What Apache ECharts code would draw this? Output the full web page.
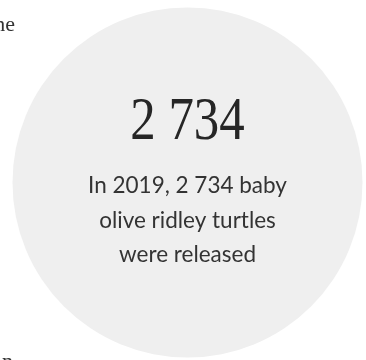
<!DOCTYPE html>
<html>
<head>
<meta charset="utf-8">
<script src="https://cdn.jsdelivr.net/npm/echarts@6/dist/echarts.min.js"></script>
<style>
html,body{margin:0;padding:0;background:#ffffff;}
#chart{width:366px;height:360px;}
</style>
</head>
<body>
<div id="chart"></div>
<script>
// Data
var years = [2019];
var released = [2734];
var sentenceLines = ["In 2019, 2 734 baby", "olive ridley turtles", "were released"];
var sideTextTop = "ne";
var sideTextBottom = "n";

function fmt(n){ return String(n).replace(/\B(?=(\d{3})+(?!\d))/g, ' '); }

var chart = echarts.init(document.getElementById('chart'), null, {renderer:'canvas'});
var cx = 187.5, cy = 182.5;
var bodyFont = '400 22.5px Lato';
var option = {
  animation: false,
  backgroundColor: '#ffffff',
  series: [{
    type: 'pie',
    center: [cx, cy],
    radius: [0, 175],
    silent: true,
    z: 1,
    label: {show: false},
    labelLine: {show: false},
    itemStyle: {color: '#efefef'},
    data: years.map(function(y, i){ return {name: String(y), value: released[i]}; })
  }],
  graphic: {
    elements: [
      {type:'text', z: 100, x: cx, y: 122.5, scaleX: 0.82, style: {text: fmt(released[0]), font: '300 62px "Liberation Serif"', fill: '#262626', textAlign: 'center', textVerticalAlign: 'middle'}},
      {type:'text', z: 100, x: cx, y: 185.6, style: {text: sentenceLines[0], font: bodyFont, fill: '#333333', textAlign: 'center', textVerticalAlign: 'middle'}},
      {type:'text', z: 100, x: cx, y: 220.6, style: {text: sentenceLines[1], font: bodyFont, fill: '#333333', textAlign: 'center', textVerticalAlign: 'middle'}},
      {type:'text', z: 100, x: cx, y: 254.6, style: {text: sentenceLines[2], font: bodyFont, fill: '#333333', textAlign: 'center', textVerticalAlign: 'middle'}},
      {type:'text', z: 100, x: 15, y: 25, style: {text: sideTextTop, font: '400 22px "Liberation Serif"', fill: '#333333', textAlign: 'right', textVerticalAlign: 'middle'}},
      {type:'text', z: 100, x: 13, y: 362, style: {text: sideTextBottom, font: '400 22px "Liberation Serif"', fill: '#333333', textAlign: 'right', textVerticalAlign: 'middle'}}
    ]
  }
};
chart.setOption(option);
</script>
</body>
</html>
